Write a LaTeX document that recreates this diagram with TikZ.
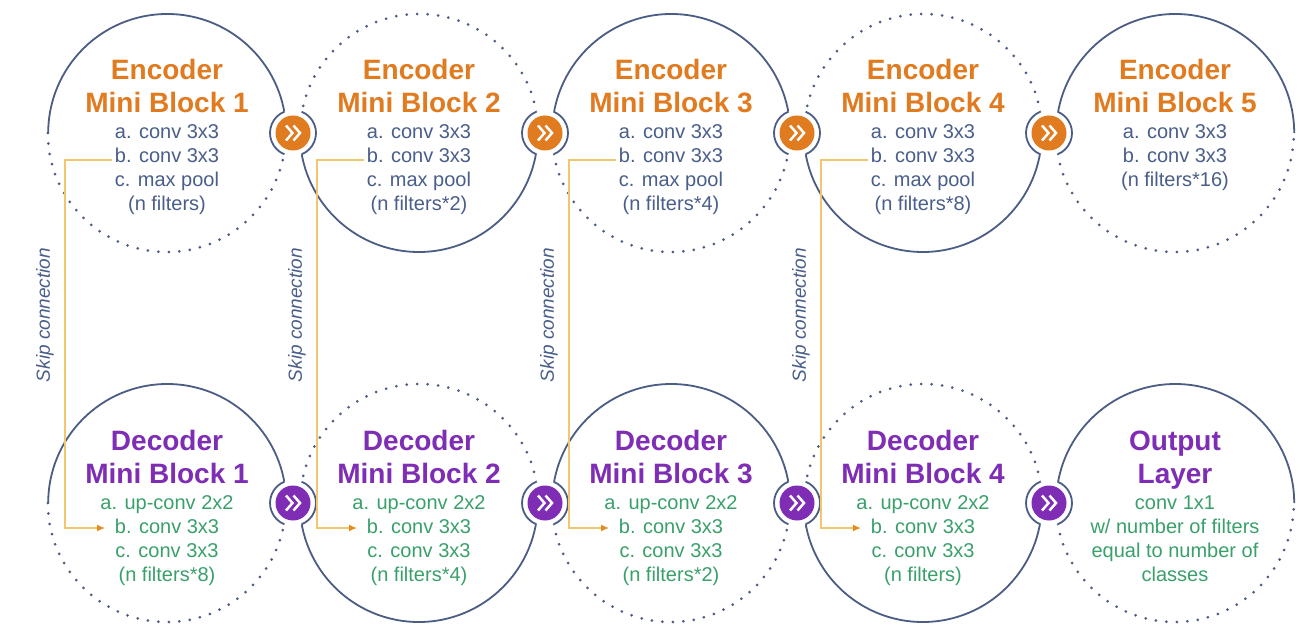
\documentclass[tikz,border=0pt]{standalone}
\usepackage{fontspec}
\setmainfont{Liberation Sans}
\usetikzlibrary{calc,arrows.meta}
\definecolor{navy}{HTML}{4B5D84}
\definecolor{etext}{HTML}{4A5E8A}
\definecolor{eor}{HTML}{E07B20}
\definecolor{dpu}{HTML}{7E2DB4}
\definecolor{dgr}{HTML}{3AA06B}
\definecolor{gold}{HTML}{F2C66F}
\definecolor{arrowor}{HTML}{E88A1E}
\tikzset{
  circ/.style={circle, minimum size=238pt, inner sep=0pt},
  solidc/.style={draw=navy, line width=1.8pt},
  dotc/.style={draw=navy, line width=3pt, line cap=round, dash pattern=on 0pt off 10.5pt},
  ringc/.style={draw=navy, line width=1.8pt},
  badge/.style={circle, minimum size=35pt, inner sep=0pt},
  chev/.style={draw=white, line width=2.5pt},
  ttl/.style={anchor=base, inner sep=0pt, font=\bfseries\fontsize{28}{33}\selectfont},
  bdy/.style={anchor=base, inner sep=0pt, font=\fontsize{20}{24}\selectfont},
  skipline/.style={draw=gold, line width=1.6pt, -{Latex[length=8pt,width=7pt,color=arrowor]}},
  skiplabel/.style={rotate=90, text=etext, font=\itshape\fontsize{19}{22}\selectfont, inner sep=0pt}
}
\newcommand\mkblock[5]{%
  \foreach \myline [count=\i] in {#4} {\node[ttl,text=#2] (#1t\i) at ($(#1)+(0,86-33*\i)$) {\myline};}
  \foreach \myline [count=\i] in {#5} {\node[bdy,text=#3] (#1b\i) at ($(#1)+(0,18-24*\i)$) {\myline};}
}
\newcommand\mkbadge[4]{% #1 name, #2 left circle, #3 right circle, #4 color
  \coordinate (#1c) at ($(#2)!.5!(#3)$);
  \fill[white] (#1c) circle[radius=23pt];
  \draw[ringc] ($(#1c)+(112:23pt)$) arc[start angle=112, end angle=248, radius=23pt];
  \draw[ringc] ($(#1c)+(-68:23pt)$) arc[start angle=-68, end angle=68, radius=23pt];
  \node[badge, fill=#4] (#1) at (#1c) {};
  \draw[chev] ($(#1)+(-7,7.5)$) -- ($(#1)+(-0.5,0)$) -- ($(#1)+(-7,-7.5)$);
  \draw[chev] ($(#1)+(0.5,7.5)$) -- ($(#1)+(7,0)$) -- ($(#1)+(0.5,-7.5)$);
}
\begin{document}
\begin{tikzpicture}[x=1pt,y=1pt]
\fill[white] (0,0) rectangle (1314,-639);
\useasboundingbox (0,0) rectangle (1314,-639);

% circles
\foreach \k in {1,...,5} {
  \node[circ] (e\k) at (167+252*\k-252,-133) {};
  \node[circ] (d\k) at (167+252*\k-252,-503) {};
}
\foreach \k in {1,3,5} {
  \draw[solidc] (e\k.east) arc[start angle=0, end angle=180, radius=119pt];
  \draw[dotc] (e\k.west) arc[start angle=180, end angle=360, radius=119pt];
  \draw[solidc] (d\k.east) arc[start angle=0, end angle=180, radius=119pt];
  \draw[dotc] (d\k.west) arc[start angle=180, end angle=360, radius=119pt];
}
\foreach \k in {2,4} {
  \draw[dotc] (e\k.east) arc[start angle=0, end angle=180, radius=119pt];
  \draw[solidc] (e\k.west) arc[start angle=180, end angle=360, radius=119pt];
  \draw[dotc] (d\k.east) arc[start angle=0, end angle=180, radius=119pt];
  \draw[solidc] (d\k.west) arc[start angle=180, end angle=360, radius=119pt];
}

% badges
\mkbadge{be1}{e1}{e2}{eor}
\mkbadge{be2}{e2}{e3}{eor}
\mkbadge{be3}{e3}{e4}{eor}
\mkbadge{be4}{e4}{e5}{eor}
\mkbadge{bd1}{d1}{d2}{dpu}
\mkbadge{bd2}{d2}{d3}{dpu}
\mkbadge{bd3}{d3}{d4}{dpu}
\mkbadge{bd4}{d4}{d5}{dpu}

% texts
\mkblock{e1}{eor}{etext}{Encoder,Mini Block 1}{a. conv 3x3,b. conv 3x3,c. max pool,(n filters)}
\mkblock{e2}{eor}{etext}{Encoder,Mini Block 2}{a. conv 3x3,b. conv 3x3,c. max pool,(n filters*2)}
\mkblock{e3}{eor}{etext}{Encoder,Mini Block 3}{a. conv 3x3,b. conv 3x3,c. max pool,(n filters*4)}
\mkblock{e4}{eor}{etext}{Encoder,Mini Block 4}{a. conv 3x3,b. conv 3x3,c. max pool,(n filters*8)}
\mkblock{e5}{eor}{etext}{Encoder,Mini Block 5}{a. conv 3x3,b. conv 3x3,(n filters*16)}
\mkblock{d1}{dpu}{dgr}{Decoder,Mini Block 1}{a. up-conv 2x2,b. conv 3x3,c. conv 3x3,(n filters*8)}
\mkblock{d2}{dpu}{dgr}{Decoder,Mini Block 2}{a. up-conv 2x2,b. conv 3x3,c. conv 3x3,(n filters*4)}
\mkblock{d3}{dpu}{dgr}{Decoder,Mini Block 3}{a. up-conv 2x2,b. conv 3x3,c. conv 3x3,(n filters*2)}
\mkblock{d4}{dpu}{dgr}{Decoder,Mini Block 4}{a. up-conv 2x2,b. conv 3x3,c. conv 3x3,(n filters)}
\mkblock{d5}{dpu}{dgr}{Output,Layer}{conv 1x1,w/ number of filters,equal to number of,classes}

% skip connections
\foreach \k in {1,...,4} {
  \coordinate (s\k a) at ($(e\k)+(-55,-27)$);
  \coordinate (s\k b) at ($(d\k)+(-62,-25)$);
  \draw[skipline] (s\k a) -- ++(-47,0) |- (s\k b);
  \node[skiplabel] (k\k) at ($(e\k)!.5!(d\k)+(-122,3)$) {Skip connection};
}
\end{tikzpicture}
\end{document}
